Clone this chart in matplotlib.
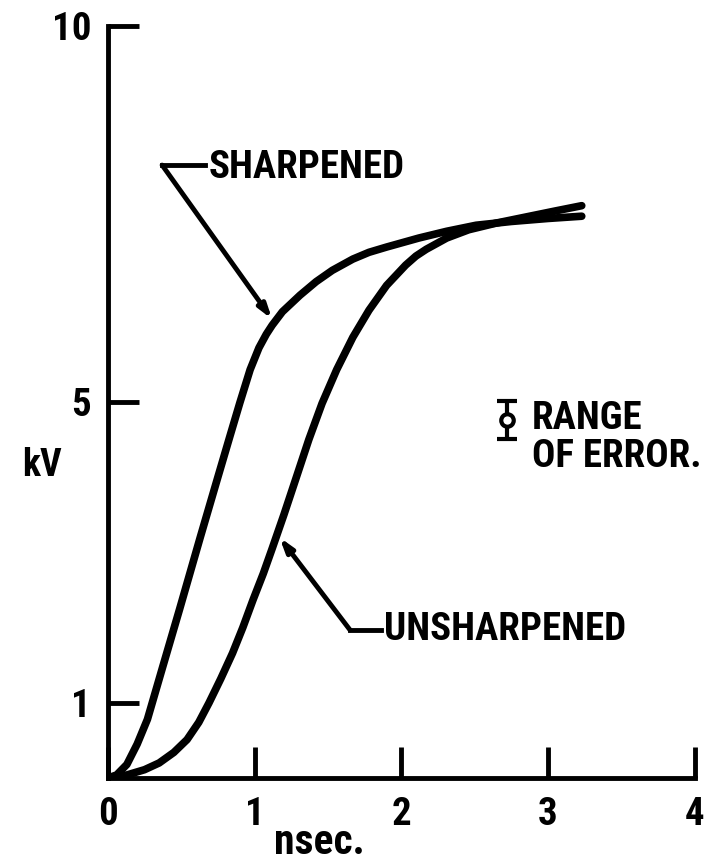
import matplotlib.pyplot as plt
from matplotlib import font_manager

# Rise of pulse voltage (kV) vs time (nsec)
sharp_t = [0, 0.06, 0.13, 0.20, 0.27, 0.37, 0.49, 0.63, 0.75, 0.83, 0.90, 0.97,
           1.03, 1.08, 1.12, 1.19, 1.31, 1.42, 1.53, 1.67, 1.78, 1.90, 2.12,
           2.31, 2.51, 2.75, 3.00, 3.23]
sharp_kv = [0, 0.04, 0.18, 0.45, 0.78, 1.45, 2.25, 3.20, 4.00, 4.53, 4.99, 5.43,
            5.72, 5.90, 6.02, 6.20, 6.42, 6.60, 6.75, 6.90, 6.99, 7.06, 7.18,
            7.27, 7.35, 7.40, 7.44, 7.47]

unsharp_t = [0, 0.13, 0.25, 0.35, 0.45, 0.54, 0.62, 0.69, 0.77, 0.85, 0.92, 0.99,
             1.06, 1.12, 1.20, 1.28, 1.37, 1.46, 1.56, 1.67, 1.78, 1.90, 2.03,
             2.10, 2.17, 2.31, 2.46, 2.65, 2.85, 3.05, 3.23]
unsharp_kv = [0, 0.04, 0.11, 0.20, 0.34, 0.51, 0.74, 1.00, 1.32, 1.66, 2.00, 2.37,
              2.72, 3.05, 3.50, 3.97, 4.50, 4.98, 5.43, 5.86, 6.22, 6.55, 6.82,
              6.94, 7.03, 7.18, 7.29, 7.38, 7.46, 7.54, 7.61]

x_ticks = [0, 1, 2, 3, 4]
y_ticks = [1, 5, 10]

# error legend: one sample bar
err_x, err_y, err_half = 2.72, 4.76, 0.25

# a narrow bold face looks closest to the lettering; fall back to smaller DejaVu
installed = {f.name for f in font_manager.fontManager.ttflist}
narrow = None
for name in ['Liberation Sans Narrow', 'DejaVu Sans Condensed', 'Roboto Condensed',
             'Open Sans Condensed']:
    if name in installed:
        narrow = name
        break
if narrow:
    FONT = [narrow, 'DejaVu Sans']
    lab_size = 28
else:
    FONT = ['DejaVu Sans']
    lab_size = 21

plt.rcParams['font.family'] = FONT
plt.rcParams['font.weight'] = 'bold'

fig = plt.figure(figsize=(7.14, 8.65), dpi=100)
ax = fig.add_axes([0.151, 0.1006, 0.822, 0.8694])

ax.plot(sharp_t, sharp_kv, color='black', linewidth=5.5, solid_capstyle='round',
        solid_joinstyle='round')
ax.plot(unsharp_t, unsharp_kv, color='black', linewidth=5.5, solid_capstyle='round',
        solid_joinstyle='round')

ax.set_xlim(0, 4)
ax.set_ylim(0, 10)
ax.set_xticks(x_ticks)
ax.set_xticklabels([str(v) for v in x_ticks])
ax.set_yticks(y_ticks)
ax.set_yticklabels([str(v) for v in y_ticks])

for side in ['top', 'right']:
    ax.spines[side].set_visible(False)
for side in ['left', 'bottom']:
    ax.spines[side].set_linewidth(3.5)
    ax.spines[side].set_capstyle('projecting')

ax.tick_params(axis='both', direction='in', length=22, width=3.5, labelsize=28)
ax.tick_params(axis='x', pad=13)
ax.tick_params(axis='y', pad=12)

ax.text(1.44, -1.13, 'nsec.', fontsize=30, ha='center', va='bottom')
ax.text(-0.45, 4.16, 'kV', fontsize=27, ha='center', va='center')

# SHARPENED leader
ax.plot([0.37, 0.66], [8.15, 8.15], color='black', linewidth=3.5)
ax.annotate('', xy=(1.12, 6.1), xytext=(0.37, 8.15),
            arrowprops=dict(arrowstyle='-|>,head_length=0.8,head_width=0.25',
                            color='black', linewidth=3.5, shrinkA=0, shrinkB=0))
ax.text(0.69, 8.12, 'SHARPENED', fontsize=lab_size, ha='left', va='center')

# UNSHARPENED leader
ax.plot([1.65, 1.86], [1.97, 1.97], color='black', linewidth=3.5)
ax.annotate('', xy=(1.17, 3.2), xytext=(1.65, 1.97),
            arrowprops=dict(arrowstyle='-|>,head_length=0.8,head_width=0.25',
                            color='black', linewidth=3.5, shrinkA=0, shrinkB=0))
ax.text(1.88, 1.97, 'UNSHARPENED', fontsize=lab_size, ha='left', va='center')

# range of error key
ax.errorbar([err_x], [err_y], yerr=[err_half], fmt='o', color='black',
            markerfacecolor='white', markersize=9, markeredgewidth=3,
            elinewidth=3, capsize=7, capthick=3.5)
ax.text(2.89, 4.78, 'RANGE', fontsize=lab_size, ha='left', va='center')
ax.text(2.89, 4.27, 'OF ERROR.', fontsize=lab_size, ha='left', va='center')

fig.savefig('out.png', dpi=100)
